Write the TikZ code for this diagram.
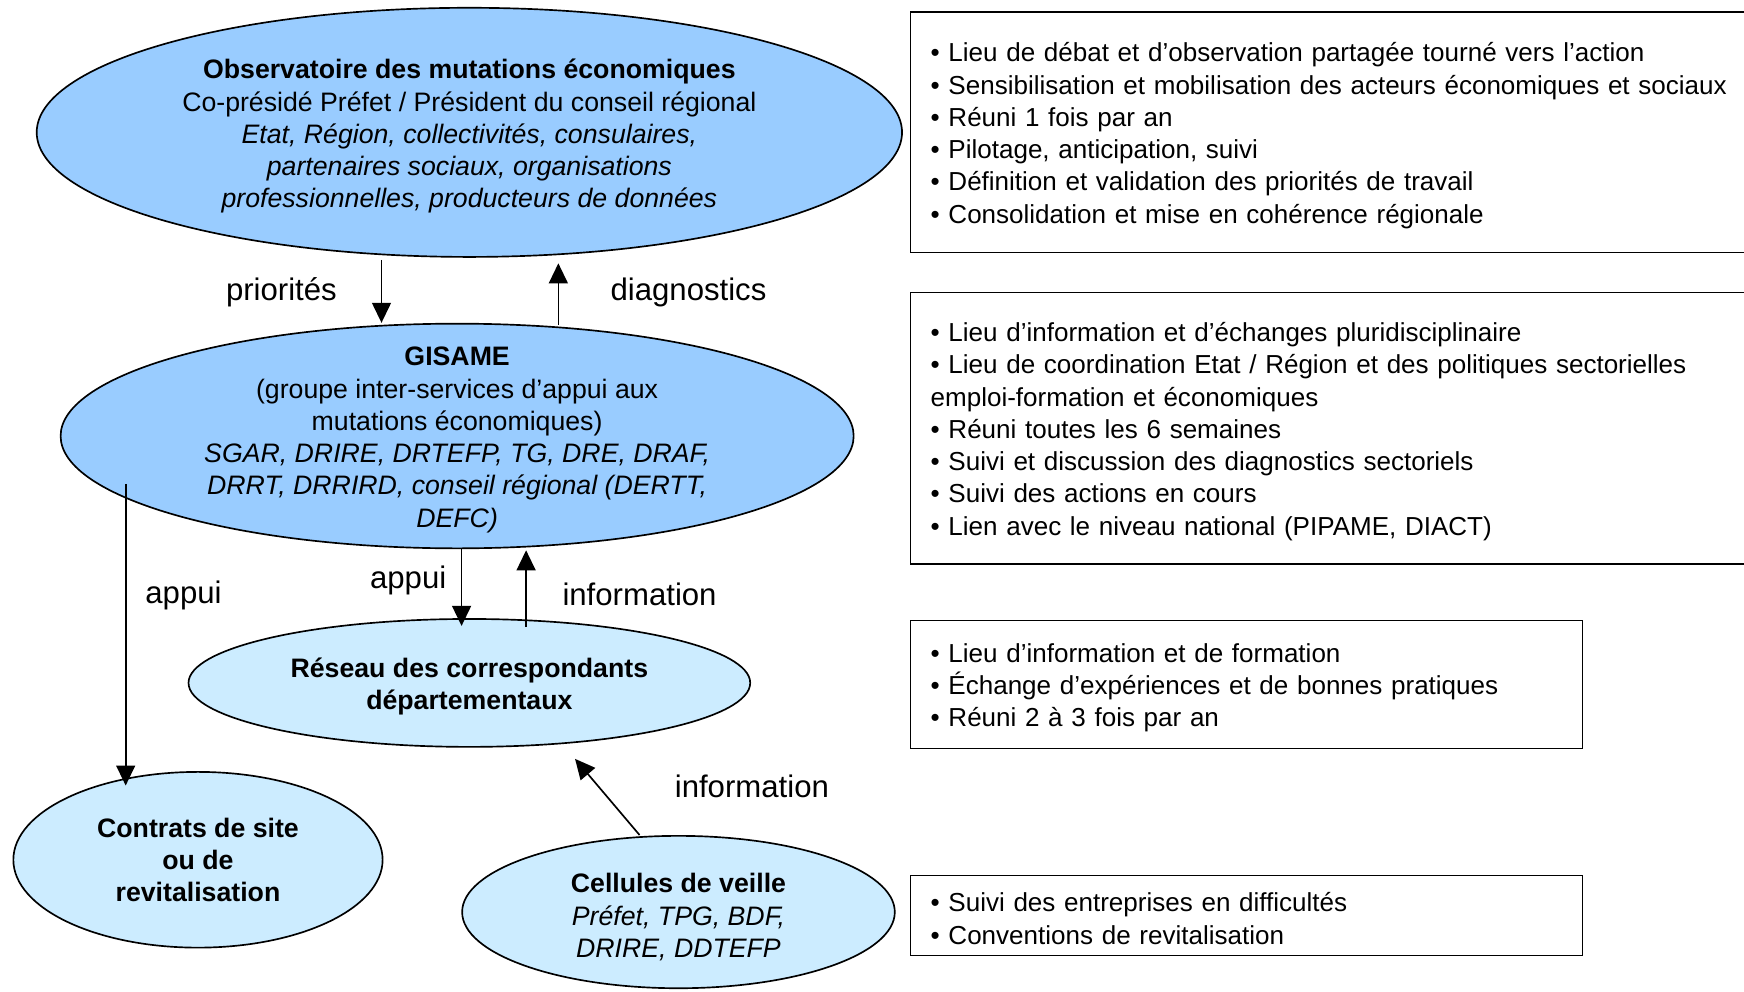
\documentclass[tikz,border=0pt]{standalone}
\usepackage{fontspec}
\setmainfont{Liberation Sans}
\definecolor{darkblue}{RGB}{153,204,255}
\definecolor{lightblue}{RGB}{204,236,255}
\usetikzlibrary{arrows.meta}
\usetikzlibrary{shapes.geometric}
\newcommand*{\boxstrut}{\rule{0pt}{23pt}}
\tikzstyle{bubble}=[ellipse, draw=black, line width=1.5pt, inner sep=0pt]
\tikzstyle{txt}=[align=center, inner sep=0pt, font=\fontsize{24}{29}\selectfont]
\tikzstyle{lbl}=[anchor=base, inner sep=0pt, font=\fontsize{28}{34}\selectfont]
\tikzstyle{infobox}=[draw=black, line width=1.5pt, anchor=west, align=left, inner xsep=18pt, inner ysep=0pt, font=\fontsize{23.4}{29}\selectfont]
\tikzstyle{arr}=[line width=1.5pt, -{Triangle[width=17pt,length=18pt]}]

\begin{document}
\begin{tikzpicture}[x=1pt, y=-1pt]
    \path [use as bounding box] (0,0) rectangle (1568,891);
    \clip (0,0) rectangle (1568,891);
    % ellipses
    \node [bubble, fill=darkblue, minimum width=778pt, minimum height=224pt] (obs) at (422,119) {};
    \node [bubble, fill=darkblue, minimum width=713pt, minimum height=202pt] (gis) at (411,392) {};
    \node [bubble, fill=lightblue, minimum width=505pt, minimum height=115pt] (res) at (422,614) {};
    \node [bubble, fill=lightblue, minimum width=332pt, minimum height=158pt] (con) at (178,773) {};
    \node [bubble, fill=lightblue, minimum width=389pt, minimum height=137pt] (cel) at (610,820) {};
    \node [txt, yshift=-3.5pt] (obstxt) at (obs.center) {\textbf{Observatoire des mutations économiques}\\
        Co-présidé Préfet / Président du conseil régional\\
        \textit{Etat, Région, collectivités, consulaires,}\\
        \textit{partenaires sociaux, organisations}\\
        \textit{professionnelles, producteurs de données}};
    \node [txt, yshift=-3.5pt] (gistxt) at (gis.center) {\textbf{GISAME}\\
        (groupe inter-services d’appui aux\\
        mutations économiques)\\
        \textit{SGAR, DRIRE, DRTEFP, TG, DRE, DRAF,}\\
        \textit{DRRT, DRRIRD, conseil régional (DERTT,}\\
        \textit{DEFC)}};
    \node [txt, yshift=-3.5pt] (restxt) at (res.center) {\textbf{Réseau des correspondants}\\ \textbf{départementaux}};
    \node [txt] (contxt) at (con.center) {\textbf{Contrats de site}\\ \textbf{ou de}\\ \textbf{revitalisation}};
    \node [txt, yshift=-4.5pt] (celtxt) at (cel.center) {\textbf{Cellules de veille}\\ \textit{Préfet, TPG, BDF,}\\ \textit{DRIRE, DDTEFP}};
    % arrows
    \draw [arr] ([xshift=-79pt,yshift=-2pt]obs.south) -- ([xshift=-68pt]gis.north);
    \draw [arr] ([xshift=91pt,yshift=-2pt]gis.north) -- ([xshift=80pt,yshift=-5pt]obs.south);
    \draw [arr] ([xshift=-298pt,yshift=-43pt]gis.center) -- ([xshift=-65pt,yshift=-13pt]con.north);
    \draw [arr] ([xshift=4pt]gis.south) -- ([xshift=-7pt,yshift=-7pt]res.north);
    \draw [arr] ([xshift=51pt,yshift=-8pt]res.north) -- ([xshift=62pt,yshift=-1pt]gis.south);
    \draw [arr] ([xshift=-35pt]cel.north) -- ([xshift=95pt,yshift=-10pt]res.south);
    \node [lbl] (prio) at (253,270) {priorités};
    \node [lbl] (diag) at (619,270) {diagnostics};
    \node [lbl] (appuicon) at (165,543) {appui};
    \node [lbl] (appuires) at (367,529) {appui};
    \node [lbl] (infogis) at (575,544) {information};
    \node [lbl] (infocel) at (676,717) {information};
    % boxes
    \node [infobox, text width=780pt, minimum height=216pt] (obsbox) at (818,119) {\boxstrut• Lieu de débat et d’observation partagée tourné vers l’action\\
        • Sensibilisation et mobilisation des acteurs économiques et sociaux\\
        • Réuni 1 fois par an\\
        • Pilotage, anticipation, suivi\\
        • Définition et validation des priorités de travail\\
        • Consolidation et mise en cohérence régionale};
    \node [infobox, text width=780pt, minimum height=244pt] (gisbox) at (818,385) {\boxstrut• Lieu d’information et d’échanges pluridisciplinaire\\
        • Lieu de coordination Etat / Région et des politiques sectorielles\\
        emploi-formation et économiques\\
        • Réuni toutes les 6 semaines\\
        • Suivi et discussion des diagnostics sectoriels\\
        • Suivi des actions en cours\\
        • Lien avec le niveau national (PIPAME, DIACT)};
    \node [infobox, text width=568pt, minimum height=115pt] (resbox) at (818,615.5) {\boxstrut• Lieu d’information et de formation\\
        • Échange d’expériences et de bonnes pratiques\\
        • Réuni 2 à 3 fois par an};
    \node [infobox, text width=568pt, minimum height=72pt] (celbox) at (818,823) {\boxstrut• Suivi des entreprises en difficultés\\
        • Conventions de revitalisation};
\end{tikzpicture}
\end{document}
